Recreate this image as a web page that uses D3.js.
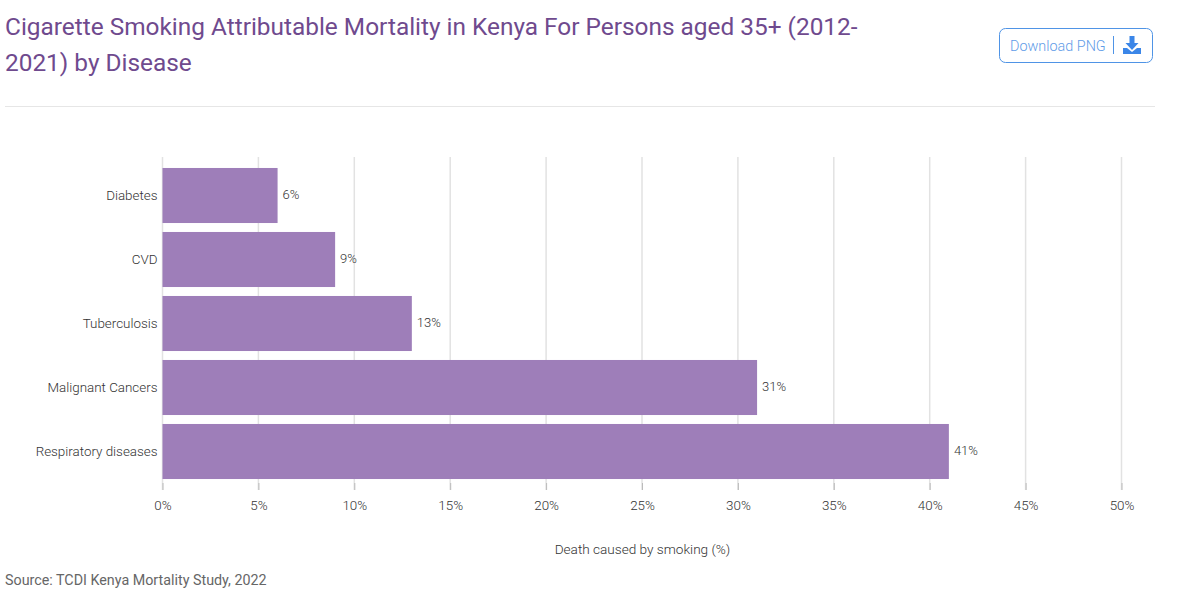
<!DOCTYPE html>
<html>
<head>
<meta charset="utf-8">
<script src="https://cdn.jsdelivr.net/npm/d3@7"></script>
<style>
  html, body { margin: 0; padding: 0; background: #fff; overflow: hidden; }
  text { font-family: Roboto, sans-serif; }
</style>
</head>
<body>
<div id="my_chart"></div>
<script>
const categories = ["Diabetes", "CVD", "Tuberculosis", "Malignant Cancers", "Respiratory diseases"];
const deaths = [6, 9, 13, 31, 41];
const xTicks = [0, 5, 10, 15, 20, 25, 30, 35, 40, 45, 50];
const titleLines = ["Cigarette Smoking Attributable Mortality in Kenya For Persons aged 35+ (2012-", "2021) by Disease"];

const svg = d3.select("#my_chart").append("svg")
  .attr("width", 1200)
  .attr("height", 592)
  .style("display", "block");

// Header
svg.selectAll(".title").data(titleLines).enter().append("text")
  .attr("class", "title")
  .attr("x", 5)
  .attr("y", (d, i) => 34.5 + i * 36.5)
  .attr("fill", "#6f4a8e")
  .style("font-size", "24.4px")
  .text(d => d);

svg.append("line")
  .attr("x1", 5).attr("x2", 1155)
  .attr("y1", 106.5).attr("y2", 106.5)
  .attr("stroke", "#e6e6e6");

// Download button
const btn = svg.append("g");
btn.append("rect")
  .attr("x", 999.5).attr("y", 28.5)
  .attr("width", 153).attr("height", 34)
  .attr("rx", 6)
  .attr("fill", "#fff")
  .attr("stroke", "#4f94e6");
btn.append("text")
  .attr("x", 1010).attr("y", 50.5)
  .attr("fill", "#5f9ce8")
  .style("font-size", "14.4px")
  .style("font-weight", 300)
  .text("Download PNG");
btn.append("line")
  .attr("x1", 1113.5).attr("x2", 1113.5)
  .attr("y1", 36).attr("y2", 54)
  .attr("stroke", "#4f94e6");
btn.append("path")
  .attr("transform", "translate(1123,36)")
  .attr("fill", "#3b86e8")
  .attr("d", "M6.5 0h5v7h4l-6.5 7-6.5-7h4z M0 12h4l5 4 5-4h4v6H0z");

// Chart
const x = d3.scaleLinear().domain([0, 50]).range([162.5, 1121.5]);
const y = d3.scaleBand().domain(categories).range([163.5, 483.5]).paddingInner(0.14).paddingOuter(0.07);

const g = svg.append("g");

g.selectAll(".grid").data(xTicks).enter().append("line")
  .attr("class", "grid")
  .attr("x1", d => x(d)).attr("x2", d => x(d))
  .attr("y1", 157).attr("y2", 490)
  .attr("stroke", "#e2e2e2")
  .attr("stroke-width", 1.5);

g.selectAll(".bar").data(deaths).enter().append("rect")
  .attr("class", "bar")
  .attr("x", x(0))
  .attr("y", (d, i) => y(categories[i]))
  .attr("width", d => x(d) - x(0))
  .attr("height", y.bandwidth())
  .attr("fill", "#9e7eb9");

g.selectAll(".val").data(deaths).enter().append("text")
  .attr("class", "val")
  .attr("x", d => x(d) + 5)
  .attr("y", (d, i) => y(categories[i]) + y.bandwidth() / 2 + 3)
  .attr("fill", "#333")
  .style("font-size", "13px")
  .style("font-weight", 300)
  .text(d => d + "%");

// Axes
const xAxis = svg.append("g")
  .attr("transform", "translate(0,483)")
  .call(d3.axisBottom(x).tickValues(xTicks).tickFormat(d => d + "%").tickSize(7).tickPadding(10));
xAxis.select(".domain").remove();
xAxis.selectAll("line").attr("stroke", "#bbb");
xAxis.selectAll("text").attr("fill", "#333").style("font-size", "13.4px").style("font-weight", 300);

const yAxis = svg.append("g")
  .attr("transform", "translate(162.5,0)")
  .call(d3.axisLeft(y).tickSize(0).tickPadding(5));
yAxis.select(".domain").remove();
yAxis.selectAll("text").attr("fill", "#333").style("font-size", "13.4px").style("font-weight", 300);

svg.append("text")
  .attr("x", 642.5).attr("y", 554)
  .attr("text-anchor", "middle")
  .attr("fill", "#333")
  .style("font-size", "13.6px")
  .style("font-weight", 300)
  .text("Death caused by smoking (%)");

svg.append("text")
  .attr("x", 5).attr("y", 584.5)
  .attr("fill", "#666")
  .style("font-size", "14.3px")
  .text("Source: TCDI Kenya Mortality Study, 2022");
</script>
</body>
</html>
